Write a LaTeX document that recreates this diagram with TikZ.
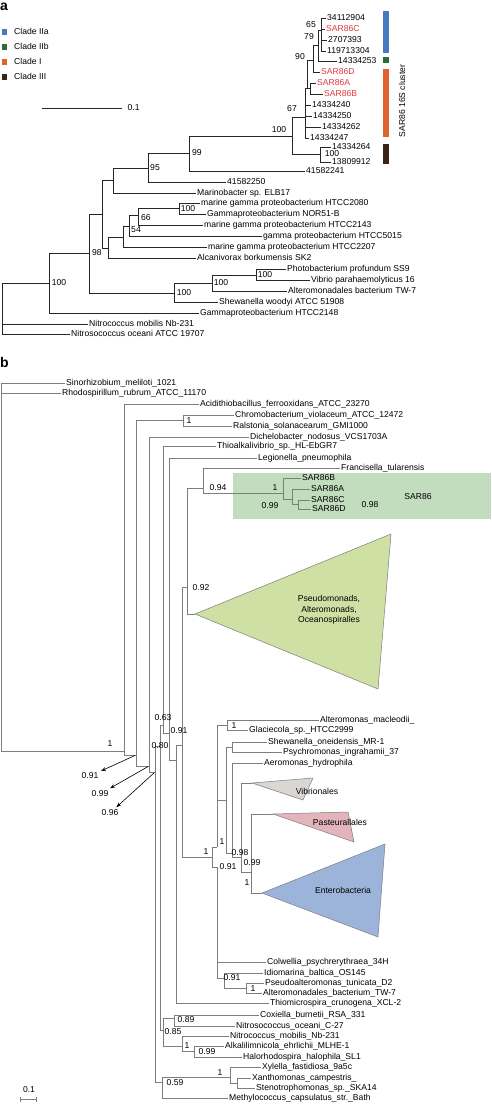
\documentclass[tikz,border=0pt]{standalone}
\usepackage{fontspec}
\setmainfont{Liberation Sans}
\usetikzlibrary{arrows.meta}
\definecolor{cladeIIa}{RGB}{72,122,192}
\definecolor{cladeIIb}{RGB}{46,106,58}
\definecolor{cladeI}{RGB}{224,98,44}
\definecolor{cladeIII}{RGB}{58,36,24}
\definecolor{sarred}{RGB}{222,58,62}
\definecolor{treegray}{RGB}{125,125,125}
\definecolor{sarbox}{RGB}{194,220,190}
\definecolor{pseudofill}{RGB}{206,224,163}
\definecolor{vibfill}{RGB}{218,214,210}
\definecolor{pastfill}{RGB}{227,180,188}
\definecolor{entfill}{RGB}{156,180,218}
\tikzset{
  lbl/.style={font=\fontsize{8.6}{9}\selectfont, inner sep=0pt},
  tip/.style={lbl, anchor=west, inner xsep=1.5pt, text height=6pt, text depth=1.6pt},
  boot/.style={lbl},
  panel/.style={font=\bfseries\fontsize{14}{15}\selectfont, inner sep=0pt, anchor=base west},
  brA/.style={line width=0.7pt, black!85},
  brB/.style={line width=0.55pt, treegray},
  collapsed/.style={draw=treegray, line width=0.5pt},
}
\begin{document}
\begin{tikzpicture}[x=1pt,y=-1pt]
\useasboundingbox (0,0) rectangle (491,1104);

% ---------- panel a ----------
\node[panel] (pa) at (0,10.5) {a};
\foreach \c/\txt/\y in {cladeIIa/Clade IIa/32, cladeIIb/Clade IIb/47, cladeI/Clade I/62, cladeIII/Clade III/77}{
  \node[fill=\c, minimum width=5.5pt, minimum height=6.5pt, inner sep=0pt] (leg\c) at (4.5,\y) {};
  \node[tip] (legt\c) at (12.5,\y) {\txt};
}
\coordinate (sbA1) at (42,108);
\coordinate (sbA2) at (122,108);
\draw[brA] (sbA1) -- (sbA2);
\node[tip] (sbAt) at (126,108) {0.1};

\fill[cladeIIa] (383,11) rectangle (389,53);
\fill[cladeIIb] (383,57) rectangle (389,63);
\fill[cladeI] (383,69) rectangle (389,137);
\fill[cladeIII] (383,144) rectangle (389,164);
\node[lbl, rotate=90] (sarclu) at (402,101) {SAR86 16S cluster};

\coordinate (aR) at (2,283);
\coordinate (aN100) at (49,283);
\coordinate (aN98) at (89,253);
\coordinate (aNx) at (102,214);
\coordinate (aNm) at (113,180);
\coordinate (aN95) at (148,168);
\coordinate (aN99) at (189,153);
\coordinate (aNsar) at (292,136);
\coordinate (aNc3) at (320,154);
\coordinate (aN67) at (305,117);
\coordinate (aNu) at (307,88);
\coordinate (aNab) at (310,88);
\coordinate (aN90) at (313,60);
\coordinate (aN79) at (318,45);
\coordinate (aN65) at (321,30);
\coordinate (aN108) at (108,248);
\coordinate (aN123) at (123,237);
\coordinate (aN54) at (129,226);
\coordinate (aN66) at (138,215);
\coordinate (aN100b) at (179,208);
\coordinate (aNvib) at (174,293);
\coordinate (aN100c) at (212,283);
\coordinate (aN100d) at (256,275);

\foreach \n/\x/\y/\txt in {
  a34112904/325.5/18/34112904, a2707393/326.5/40/2707393, a119713304/325.5/51/119713304,
  a14334253/336.5/61/14334253, a14334240/310.5/105/14334240, a14334250/311.5/116/14334250,
  a14334262/320.5/127/14334262, a14334247/308.5/138/14334247, a14334264/330.5/147/14334264,
  a13809912/330.5/162/13809912, a41582241/304.5/171/41582241, a41582250/225.5/182/41582250,
  aMarino/195.5/193/Marinobacter sp. ELB17,
  aH2080/199.5/203/marine gamma proteobacterium HTCC2080,
  aNOR51/205.5/214/Gammaproteobacterium NOR51-B,
  aH2143/202.5/225/marine gamma proteobacterium HTCC2143,
  aH5015/261.5/236/gamma proteobacterium HTCC5015,
  aH2207/206.5/247/marine gamma proteobacterium HTCC2207,
  aAlcan/195.5/258/Alcanivorax borkumensis SK2,
  aPhoto/285.5/269/Photobacterium profundum SS9,
  aVibrio/309.5/280/Vibrio parahaemolyticus 16,
  aTW7/286.5/291/Alteromonadales bacterium TW-7,
  aShew/217.5/302/Shewanella woodyi ATCC 51908,
  aH2148/198.5/313/Gammaproteobacterium HTCC2148,
  aNitco/87.5/324/Nitrococcus mobilis Nb-231,
  aNitso/69.5/334/Nitrosococcus oceani ATCC 19707}
  \node[tip] (\n) at (\x,\y) {\txt};
\foreach \n/\x/\y/\txt in {aSAR86C/324.5/29/SAR86C, aSAR86D/319.5/72/SAR86D,
  aSAR86A/315.5/83/SAR86A, aSAR86B/322.5/94/SAR86B}
  \node[tip, text=sarred] (\n) at (\x,\y) {\txt};

\foreach \p/\c in {aR/aN100, aR/aNitco, aR/aNitso, aN100/aN98, aN100/aH2148,
  aN98/aNx, aN98/aNvib, aNx/aNm, aNx/aN108, aNm/aN95, aNm/aMarino,
  aN95/aN99, aN95/a41582250, aN99/aNsar, aN99/a41582241, aNsar/aN67, aNsar/aNc3,
  aNc3/a14334264, aNc3/a13809912, aN67/aNu, aN67/a14334240, aN67/a14334250,
  aN67/a14334262, aN67/a14334247, aNu/aN90, aNu/aNab, aNab/aSAR86A, aNab/aSAR86B,
  aN90/aN79, aN90/aSAR86D, aN79/aN65, aN79/a14334253, aN65/a34112904, aN65/aSAR86C,
  aN65/a2707393, aN65/a119713304, aN108/aN123, aN108/aAlcan, aN123/aN54, aN123/aH2207,
  aN54/aN66, aN54/aH5015, aN66/aN100b, aN66/aH2143, aN100b/aH2080, aN100b/aNOR51,
  aNvib/aN100c, aNvib/aShew, aN100c/aN100d, aN100c/aTW7, aN100d/aPhoto, aN100d/aVibrio}
  \draw[brA] (\p) |- (\c);

\foreach \n/\x/\y/\txt in {bsA100/59/283/100, bsA98/97/253/98, bsA95/155/168/95,
  bsA99/197/153/99, bsAsar/279/130/100, bsA67/292/109/67, bsA90/300/57/90,
  bsA79/309/37/79, bsA65/311/25/65, bsAc3/332/154/100, bsA66/146/218/66,
  bsA54/136/230/54, bsA100b/188/209/100, bsAvib/184/293/100, bsA100c/221/283/100,
  bsA100d/265/275/100}
  \node[boot] (\n) at (\x,\y) {\txt};

% ---------- panel b ----------
\node[panel] (pb) at (0,367) {b};
\fill[sarbox] (233,473) rectangle (491,519);
\node[lbl] (sarlbl) at (418,497) {SAR86};

\coordinate (psA) at (195,614); \coordinate (psB) at (391,534); \coordinate (psC) at (378,689);
\coordinate (viA) at (252,783); \coordinate (viB) at (313,778); \coordinate (viC) at (303,800);
\coordinate (paA) at (273,814); \coordinate (paB) at (348,812); \coordinate (paC) at (354,842);
\coordinate (enA) at (262,893); \coordinate (enB) at (385,844); \coordinate (enC) at (378,937);
\draw[collapsed, fill=pseudofill] (psA) -- (psB) -- (psC) -- cycle;
\draw[collapsed, fill=vibfill] (viA) -- (viB) -- (viC) -- cycle;
\draw[collapsed, fill=pastfill] (paA) -- (paB) -- (paC) -- cycle;
\draw[collapsed, fill=entfill] (enA) -- (enB) -- (enC) -- cycle;
\node[lbl, align=center, font=\fontsize{8.6}{10.5}\selectfont] (psT) at (329,610) {Pseudomonads,\\Alteromonads,\\Oceanospiralles};
\node[lbl] (viT) at (317,791) {Vibrionales};
\node[lbl] (paT) at (340,822) {Pasteurallales};
\node[lbl] (enT) at (343,890) {Enterobacteria};

\coordinate (bR) at (1,751);
\coordinate (bI1) at (124,751);
\coordinate (bI2) at (136,755);
\coordinate (bChr) at (183,420);
\coordinate (bI3) at (149,766);
\coordinate (bI4) at (155,772);
\coordinate (bI5) at (160,746);
\coordinate (bI6) at (163,725);
\coordinate (bI7) at (169,733);
\coordinate (bI8) at (176,760);
\coordinate (bI9) at (182,745);
\coordinate (bN092) at (187,587);
\coordinate (bN094) at (203,488);
\coordinate (bS1) at (283,493);
\coordinate (bS2) at (292,499);
\coordinate (bS3) at (298,504);
\coordinate (bG1) at (212,857);
\coordinate (bU) at (217,847);
\coordinate (bAG) at (227,725);
\coordinate (bW) at (226,800);
\coordinate (bSP) at (232,747);
\coordinate (bY) at (232,853);
\coordinate (bZ) at (241,857);
\coordinate (bE) at (251,872);
\coordinate (bC) at (217,867);
\coordinate (bC2) at (224,978);
\coordinate (bC3) at (246,988);
\coordinate (bN085) at (163,1030);
\coordinate (bN089) at (174,1018);
\coordinate (bN1) at (182,1046);
\coordinate (bN099) at (194,1051);
\coordinate (bN059) at (162,1082);
\coordinate (bX1) at (230,1077);
\coordinate (bX2) at (237,1083);

\foreach \n/\x/\y/\txt in {
  bSino/64.5/383/Sinorhizobium\_meliloti\_1021,
  bRhodo/60.5/393/Rhodospirillum\_rubrum\_ATCC\_11170,
  bAcid/198.5/404/Acidithiobacillus\_ferrooxidans\_ATCC\_23270,
  bChromo/233.5/415/Chromobacterium\_violaceum\_ATCC\_12472,
  bRals/231.5/426/Ralstonia\_solanacearum\_GMI1000,
  bDich/248.5/437/Dichelobacter\_nodosus\_VCS1703A,
  bThioalk/215.5/446/Thioalkalivibrio\_sp.\_HL-EbGR7,
  bLeg/256.5/458/Legionella\_pneumophila,
  bFran/339.5/468/Francisella\_tularensis,
  bS86B/300.5/478/SAR86B, bS86A/309.5/489/SAR86A,
  bS86C/309.5/500/SAR86C, bS86D/310.5/509/SAR86D,
  bAlteroM/318.5/720/Alteromonas\_macleodii\_,
  bGlac/247.5/730/Glaciecola\_sp.\_HTCC2999,
  bShew/266.5/742/Shewanella\_oneidensis\_MR-1,
  bPsychro/281.5/752/Psychromonas\_ingrahamii\_37,
  bAero/262.5/763/Aeromonas\_hydrophila,
  bColw/265.5/962/Colwellia\_psychrerythraea\_34H,
  bIdio/262.5/973/Idiomarina\_baltica\_OS145,
  bPsAlt/263.5/983/Pseudoalteromonas\_tunicata\_D2,
  bTW7/261.5/993/Alteromonadales\_bacterium\_TW-7,
  bThiom/268.5/1003/Thiomicrospira\_crunogena\_XCL-2,
  bCox/258.5/1015/Coxiella\_burnetii\_RSA\_331,
  bNoce/234.5/1026/Nitrosococcus\_oceani\_C-27,
  bNmob/228.5/1036/Nitrococcus\_mobilis\_Nb-231,
  bAlk/223.5/1046/Alkalilimnicola\_ehrlichii\_MLHE-1,
  bHalo/241.5/1057/Halorhodospira\_halophila\_SL1,
  bXyl/260.5/1067/Xylella\_fastidiosa\_9a5c,
  bXan/250.5/1078/Xanthomonas\_campestris\_,
  bSteno/254.5/1088/Stenotrophomonas\_sp.\_SKA14,
  bMeth/227.5/1098/Methylococcus\_capsulatus\_str.\_Bath}
  \node[tip] (\n) at (\x,\y) {\txt};

\foreach \p/\c in {bR/bSino, bR/bRhodo, bR/bI1, bI1/bAcid, bI1/bI2, bI2/bChr, bI2/bI3,
  bChr/bChromo, bChr/bRals, bI3/bDich, bI3/bI4, bI4/bI5, bI4/bN059, bI5/bI6, bI5/bN085,
  bI6/bThioalk, bI6/bI7, bI7/bLeg, bI7/bI8, bI8/bI9, bI8/bThiom, bI9/bN092, bI9/bG1,
  bN092/bN094, bN092/psA, bN094/bFran, bN094/bS1, bS1/bS86B, bS1/bS2, bS2/bS86A, bS2/bS3,
  bS3/bS86C, bS3/bS86D, bG1/bU, bG1/bC, bU/bAG, bU/bW, bAG/bAlteroM, bAG/bGlac,
  bW/bSP, bW/bY, bSP/bShew, bSP/bPsychro, bY/bAero, bY/bZ, bZ/viA, bZ/bE, bE/paA, bE/enA,
  bC/bColw, bC/bC2, bC2/bIdio, bC2/bC3, bC3/bPsAlt, bC3/bTW7, bN085/bN089, bN085/bN1,
  bN089/bCox, bN089/bNoce, bN1/bNmob, bN1/bN099, bN099/bAlk, bN099/bHalo,
  bN059/bX1, bN059/bMeth, bX1/bXyl, bX1/bX2, bX2/bXan, bX2/bSteno}
  \draw[brB] (\p) |- (\c);

\foreach \n/\x/\y/\txt in {bsI1/110/744/1, bsChr/189/421/1, bsI4/160/746/0.80,
  bsI6/163/718/0.63, bsI7/179/731/0.91, bsI9/206/852/1, bs092/201/588/0.92,
  bs094/218/488/0.94, bsS1/275/488/1, bsS2/270/506/0.99, bsS3/370/505/0.98,
  bsU/222/842/1, bsAG/234/726/1, bsY/240/853/0.98, bsZ/252/863/0.99, bsE/247/883/1,
  bsC/228/867/0.91, bsC2/232/978/0.91, bsC3/253/989/1, bs089/186/1020/0.89,
  bs085/173/1032/0.85, bsN1/187/1046/1, bs099/207/1052/0.99, bs059/175/1083/0.59,
  bsX1/220/1073/1}
  \node[boot] (\n) at (\x,\y) {\txt};

\node[boot, inner sep=2.5pt] (arw1) at (90,776) {0.91};
\node[boot, inner sep=2.5pt] (arw2) at (100,794) {0.99};
\node[boot, inner sep=2.5pt] (arw3) at (110,813) {0.96};
\foreach \s/\e in {bI2/arw1, bI3/arw2, bI4/arw3}
  \draw[line width=0.6pt, -{Stealth[length=5pt,width=3.5pt]}, shorten <=1pt] (\s) -- (\e);

\coordinate (sbB1) at (20,1099);
\coordinate (sbB2) at (37,1099);
\draw[brB, {Bar[width=5pt]}-{Bar[width=5pt]}] (sbB1) -- (sbB2);
\node[boot] (sbBt) at (29,1090) {0.1};
\end{tikzpicture}
\end{document}
